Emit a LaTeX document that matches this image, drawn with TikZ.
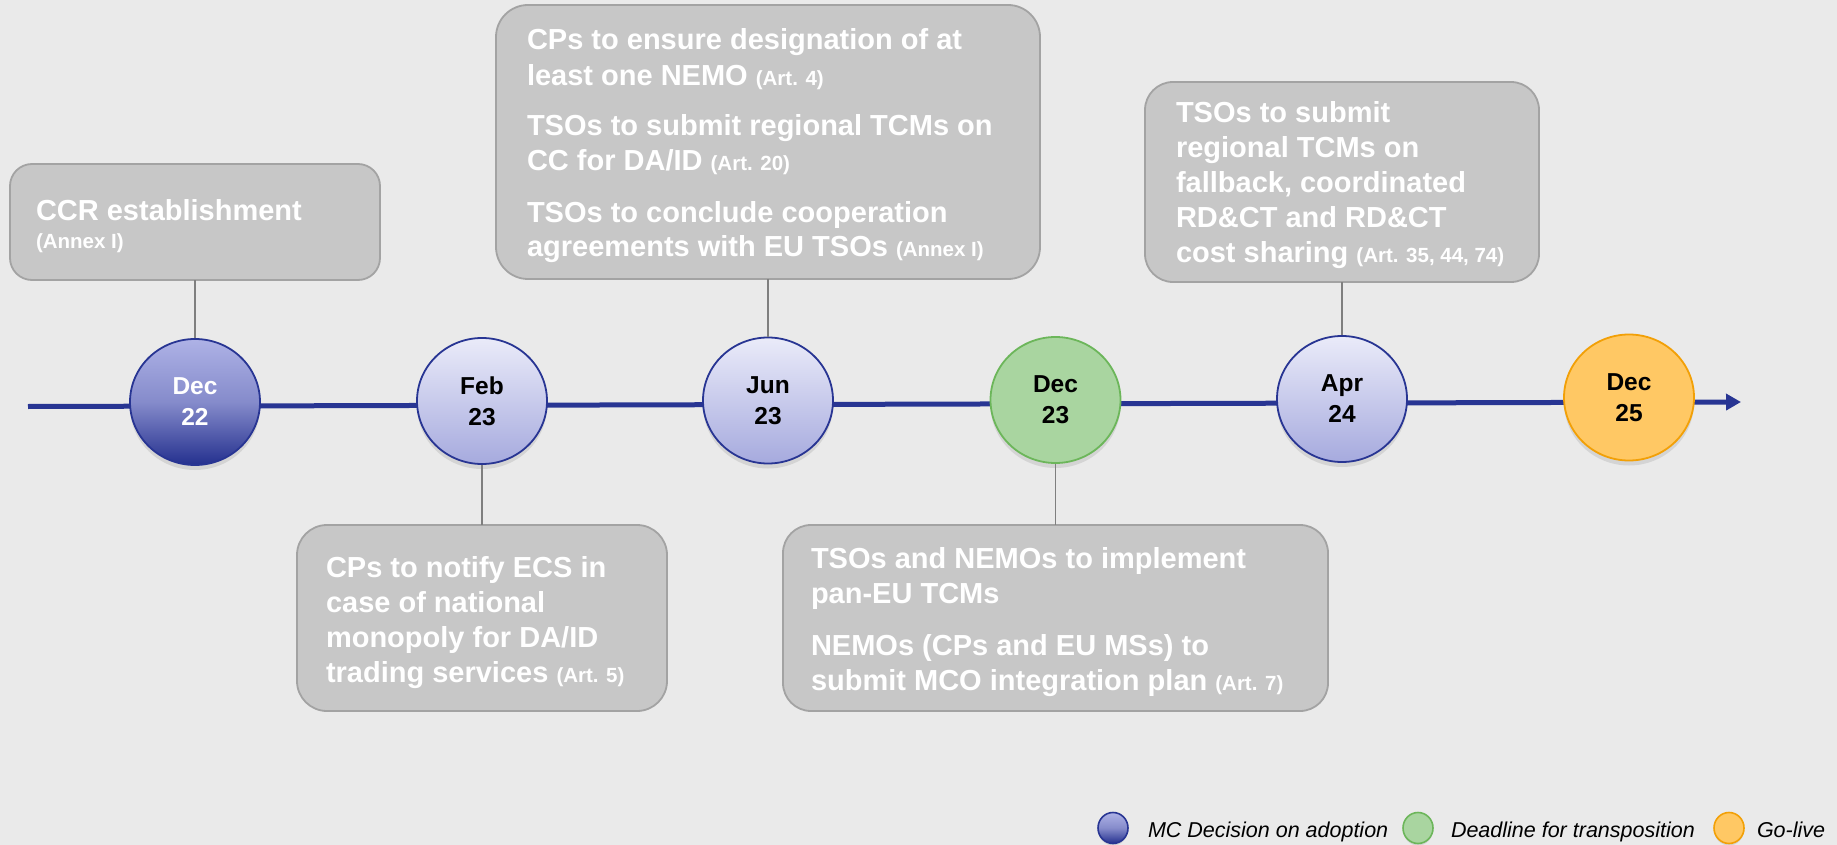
\documentclass[tikz,border=0pt]{standalone}
\usepackage{fontspec}
\setmainfont{Liberation Sans}
\usetikzlibrary{arrows.meta,shapes.geometric,shadows}
\definecolor{bg}{HTML}{EAEAEA}
\definecolor{navy}{HTML}{283593}
\definecolor{boxfill}{HTML}{C7C7C7}
\definecolor{boxline}{HTML}{A3A3A3}
\definecolor{conn}{HTML}{7F7F7F}
\definecolor{lavtop}{HTML}{EAEBF9}
\definecolor{lavbot}{HTML}{A6AADE}
\definecolor{mctop}{HTML}{AEB2E6}
\definecolor{mcmid}{HTML}{858BCB}
\definecolor{mcbot}{HTML}{24308E}
\definecolor{greenf}{HTML}{A9D5A0}
\definecolor{greenl}{HTML}{6CB65A}
\definecolor{orangef}{HTML}{FFC864}
\definecolor{orangel}{HTML}{F2A007}
\newcommand\artref[1]{{\fontsize{20.5}{24}\selectfont #1}}
\newcommand\firstline{\rule{0pt}{25pt}}
\begin{document}
\begin{tikzpicture}[x=1pt,y=-1pt,
  evbox/.style={draw=boxline, line width=1.8pt, fill=boxfill, inner sep=0pt, outer sep=0pt, anchor=north west, rounded corners=#1},
  evtext/.style={text=white, font=\bfseries\fontsize{29}{35}\selectfont, align=left, inner sep=0pt, outer sep=0pt, anchor=north west},
  datecirc/.style={ellipse, minimum width=130pt, minimum height=126pt, inner sep=0pt, line width=1.8pt, align=center, font=\bfseries\fontsize{24.5}{31}\selectfont, drop shadow={shadow xshift=0pt, shadow yshift=-5pt, opacity=0.2}},
  legcirc/.style={ellipse, minimum width=30pt, minimum height=31pt, inner sep=0pt, line width=1.6pt, drop shadow={shadow xshift=0pt, shadow yshift=-2pt, opacity=0.2}},
  legtext/.style={font=\itshape\fontsize{21.5}{26}\selectfont, text=black, inner sep=0pt, outer sep=0pt, anchor=base west},
  mcdec/.style={draw=navy, top color=mctop, bottom color=mcbot, middle color=mcmid},
  mcstd/.style={draw=navy, top color=lavtop, bottom color=lavbot},
  deadline/.style={draw=greenl, fill=greenf},
  golive/.style={draw=orangel, fill=orangef},
  connector/.style={draw=conn, line width=1.5pt},
  timeline/.style={draw=navy, line width=5pt, -{Triangle[length=15pt,width=16pt]}}
]
\path[use as bounding box, fill=bg] (0,0) rectangle (1837,845);

% timeline
\coordinate (tlstart) at (28,406.5);
\coordinate (tlend) at (1741,402);
\draw[timeline] (tlstart) -- (tlend);

% event boxes
\node[evbox=22pt, minimum width=370pt, minimum height=116pt] (ccrbox) at (10,164) {};
\node[evtext] (ccrtext) at (36,195) {\firstline CCR establishment\\[-7pt]\artref{(Annex I)}};

\node[evbox=32pt, minimum width=544pt, minimum height=274pt] (junbox) at (496,5) {};
\node[evtext] (juntext) at (527,25) {\firstline CPs to ensure designation of at\\
least one NEMO \artref{(Art. 4)}\\[16pt]
TSOs to submit regional TCMs on\\
CC for DA/ID \artref{(Art. 20)}\\[16pt]
TSOs to conclude cooperation\\
agreements with EU TSOs \artref{(Annex I)}};

\node[evbox=28pt, minimum width=394pt, minimum height=200pt] (aprbox) at (1145,82) {};
\node[evtext] (aprtext) at (1176,97) {\firstline TSOs to submit\\
regional TCMs on\\
fallback, coordinated\\
RD\&CT and RD\&CT\\
cost sharing \artref{(Art. 35, 44, 74)}};

\node[evbox=30pt, minimum width=370pt, minimum height=186pt] (febbox) at (297,525) {};
\node[evtext] (febtext) at (326,552) {\firstline CPs to notify ECS in\\
case of national\\
monopoly for DA/ID\\
trading services \artref{(Art. 5)}};

\node[evbox=28pt, minimum width=545pt, minimum height=186pt] (decbox) at (783,525) {};
\node[evtext] (dectext) at (811,543) {\firstline TSOs and NEMOs to implement\\
pan-EU TCMs\\[17pt]
NEMOs (CPs and EU MSs) to\\
submit MCO integration plan \artref{(Art. 7)}};

% date circles
\node[datecirc, mcdec, text=white] (c1) at (195,402) {Dec\\22};
\node[datecirc, mcstd] (c2) at (482,401) {Feb\\23};
\node[datecirc, mcstd] (c3) at (768,400.5) {Jun\\23};
\node[datecirc, deadline] (c4) at (1055.5,400) {Dec\\23};
\node[datecirc, mcstd] (c5) at (1342,399) {Apr\\24};
\node[datecirc, golive] (c6) at (1629,397.5) {Dec\\25};

% connectors
\draw[connector] (ccrbox.south) -- (c1.north);
\draw[connector] (junbox.south) -- (c3.north);
\draw[connector] (aprbox.south) -- (c5.north);
\draw[connector] (c2.south) -- (febbox.north);
\draw[connector] (c4.south) -- (decbox.north);

% legend
\node[legcirc, mcdec] (l1) at (1113,828) {};
\node[legtext] (l1t) at (1148,837) {MC Decision on adoption};
\node[legcirc, deadline] (l2) at (1418,828) {};
\node[legtext] (l2t) at (1451,837) {Deadline for transposition};
\node[legcirc, golive] (l3) at (1729,828) {};
\node[legtext] (l3t) at (1757,837) {Go-live};
\end{tikzpicture}
\end{document}
